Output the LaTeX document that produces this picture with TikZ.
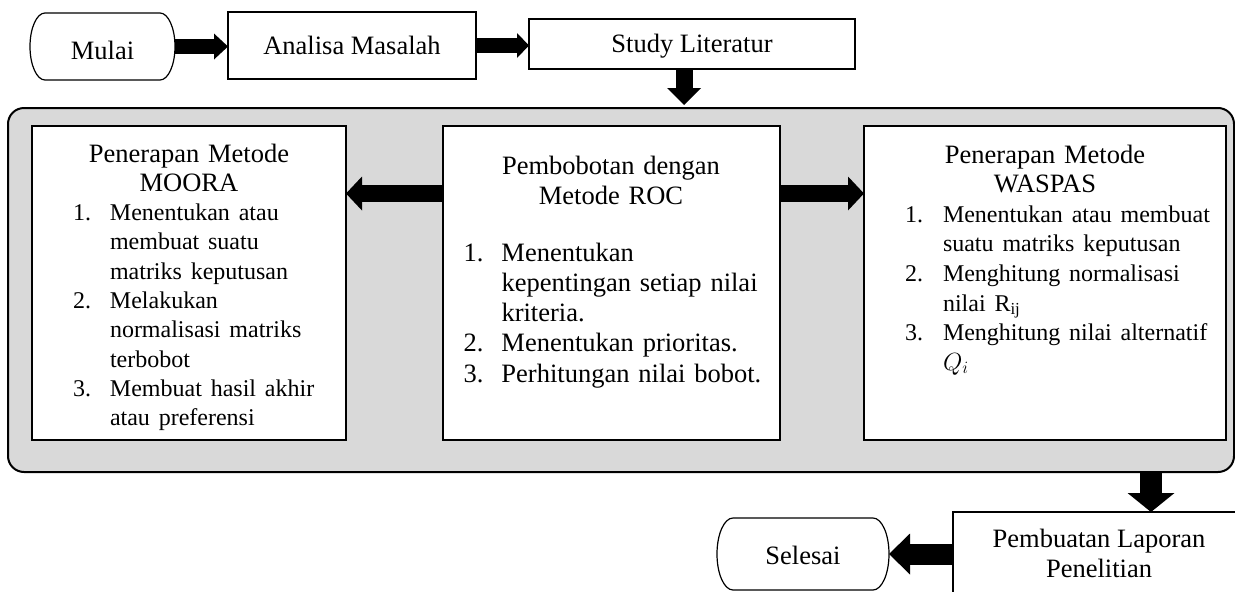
\documentclass[tikz,border=0pt]{standalone}
\usepackage{fontspec}
\setmainfont{Liberation Serif}
\usetikzlibrary{arrows.meta,calc}
\definecolor{grayfill}{RGB}{217,217,217}
\hyphenpenalty=10000
\exhyphenpenalty=10000
\newcommand\numitem[3]{\hspace*{#1}\makebox[#2][l]{#3}}
% outline of a terminal (elliptic ends), drawn round a named node
\newcommand\termoutline[2]{%
  \draw[termline]
    ([xshift=#2pt]#1.north west) -- ([xshift=-#2pt]#1.north east)
    .. controls ([xshift=-0.448*#2pt]#1.north east) and ($(#1.east)!0.552!(#1.north east)$) .. (#1.east)
    .. controls ($(#1.east)!0.552!(#1.south east)$) and ([xshift=-0.448*#2pt]#1.south east) .. ([xshift=-#2pt]#1.south east)
    -- ([xshift=#2pt]#1.south west)
    .. controls ([xshift=0.448*#2pt]#1.south west) and ($(#1.west)!0.552!(#1.south west)$) .. (#1.west)
    .. controls ($(#1.west)!0.552!(#1.north west)$) and ([xshift=0.448*#2pt]#1.north west) .. cycle;}
\begin{document}
\begin{tikzpicture}[x=1pt,y=-1pt,
  every node/.style={inner sep=0pt, outer sep=0pt},
  txt/.style={font=\fontsize{26.5}{30}\selectfont},
  box/.style={draw, line width=1.2pt, fill=white, txt, align=center},
  term/.style={txt},
  termline/.style={line width=1.2pt},
  panel/.style={draw, line width=1.3pt, fill=white},
  groupbox/.style={draw, line width=2pt, fill=grayfill, rounded corners=16pt},
  paneltext/.style n args={2}{anchor=base west, text width=#1, align=left, font=\fontsize{26.5}{#2}\selectfont},
  blk/.style n args={3}{line width=#1, -{Triangle[length=#3, width=#2, line width=0pt]}},
]
\path[use as bounding box] (0,0) rectangle (1235,592);
\clip (0,0) rectangle (1235,592);

% top row
\node[term, minimum width=145pt, minimum height=67pt, text height=26pt] (mulai) at (102.5,46.5) {Mulai};
\termoutline{mulai}{15}
\node[box, minimum width=248pt, minimum height=67pt] (analisa) at (352,45.5) {Analisa Masalah};
\node[box, minimum width=326pt, minimum height=50pt, text height=22pt] (study) at (692,44) {Study Literatur};

% container
\node[groupbox, minimum width=1226pt, minimum height=364pt] (group) at (621,290) {};

% panels
\node[panel, minimum width=314pt, minimum height=314pt] (moora) at (189,283) {};
\node[panel, minimum width=337pt, minimum height=314pt] (roc) at (611.5,283) {};
\node[panel, minimum width=362pt, minimum height=314pt] (waspas) at (1045,283) {};

\node[paneltext={314pt}{29.3pt}] (mooratxt) at (32,162) {%
{\centering Penerapan Metode\\MOORA\par}
\fontsize{24}{29.3}\selectfont
\numitem{41pt}{37pt}{1.}Menentukan atau\\
\hspace*{78pt}membuat suatu\\
\hspace*{78pt}matriks keputusan\\
\numitem{41pt}{37pt}{2.}Melakukan\\
\hspace*{78pt}normalisasi matriks\\
\hspace*{78pt}terbobot\\
\numitem{41pt}{37pt}{3.}Membuat hasil akhir\\
\hspace*{78pt}atau preferensi};

\node[paneltext={337pt}{30.2pt}] (roctxt) at (442.5,174) {%
{\centering Pembobotan dengan\\Metode ROC\par}
\vspace{26.8pt}
\numitem{21pt}{38pt}{1.}Menentukan\\
\hspace*{59pt}kepentingan setiap nilai\\
\hspace*{59pt}kriteria.\\
\numitem{21pt}{38pt}{2.}Menentukan prioritas.\\
\numitem{21pt}{38pt}{3.}Perhitungan nilai bobot.};

\node[paneltext={362pt}{29.6pt}] (waspastxt) at (864,163) {%
{\centering Penerapan Metode\\WASPAS\par}
\fontsize{24}{29.6}\selectfont
\numitem{41pt}{38pt}{1.}Menentukan atau membuat\\
\hspace*{79pt}suatu matriks keputusan\\
\numitem{41pt}{38pt}{2.}Menghitung normalisasi\\
\hspace*{79pt}nilai R\textsubscript{ij}\\
\numitem{41pt}{38pt}{3.}Menghitung nilai alternatif\\
\hspace*{79pt}$Q_i$};

% bottom row
\node[box, minimum width=292pt, minimum height=88pt] (lapor) at (1099,556) {};
\node[txt, align=center] (laportxt) at (1099,553) {Pembuatan Laporan\\Penelitian};
\node[term, minimum width=172pt, minimum height=72pt, text height=22pt] (selesai) at (803,554) {Selesai};
\termoutline{selesai}{16}

% connectors
\coordinate (lvl) at (0,193.5);
\draw[blk={15pt}{26pt}{14pt}] (mulai.east) -- (mulai.east -| analisa.west);
\draw[blk={15pt}{25pt}{12pt}] (analisa.east) -- (analisa.east -| study.west);
\draw[blk={17pt}{34pt}{17pt}, shorten >=3pt] ([xshift=-8pt]study.south) -- ([xshift=-8pt]study.south |- group.north);
\draw[blk={17pt}{34pt}{16pt}] (roc.west |- lvl) -- (moora.east |- lvl);
\draw[blk={17pt}{34pt}{16pt}] (roc.east |- lvl) -- (waspas.west |- lvl);
\draw[blk={22pt}{47pt}{19pt}] ([xshift=52pt]lapor.north |- group.south) -- ([xshift=52pt]lapor.north);
\draw[blk={21pt}{41pt}{21pt}] (selesai.east -| lapor.west) -- (selesai.east);
\end{tikzpicture}
\end{document}
